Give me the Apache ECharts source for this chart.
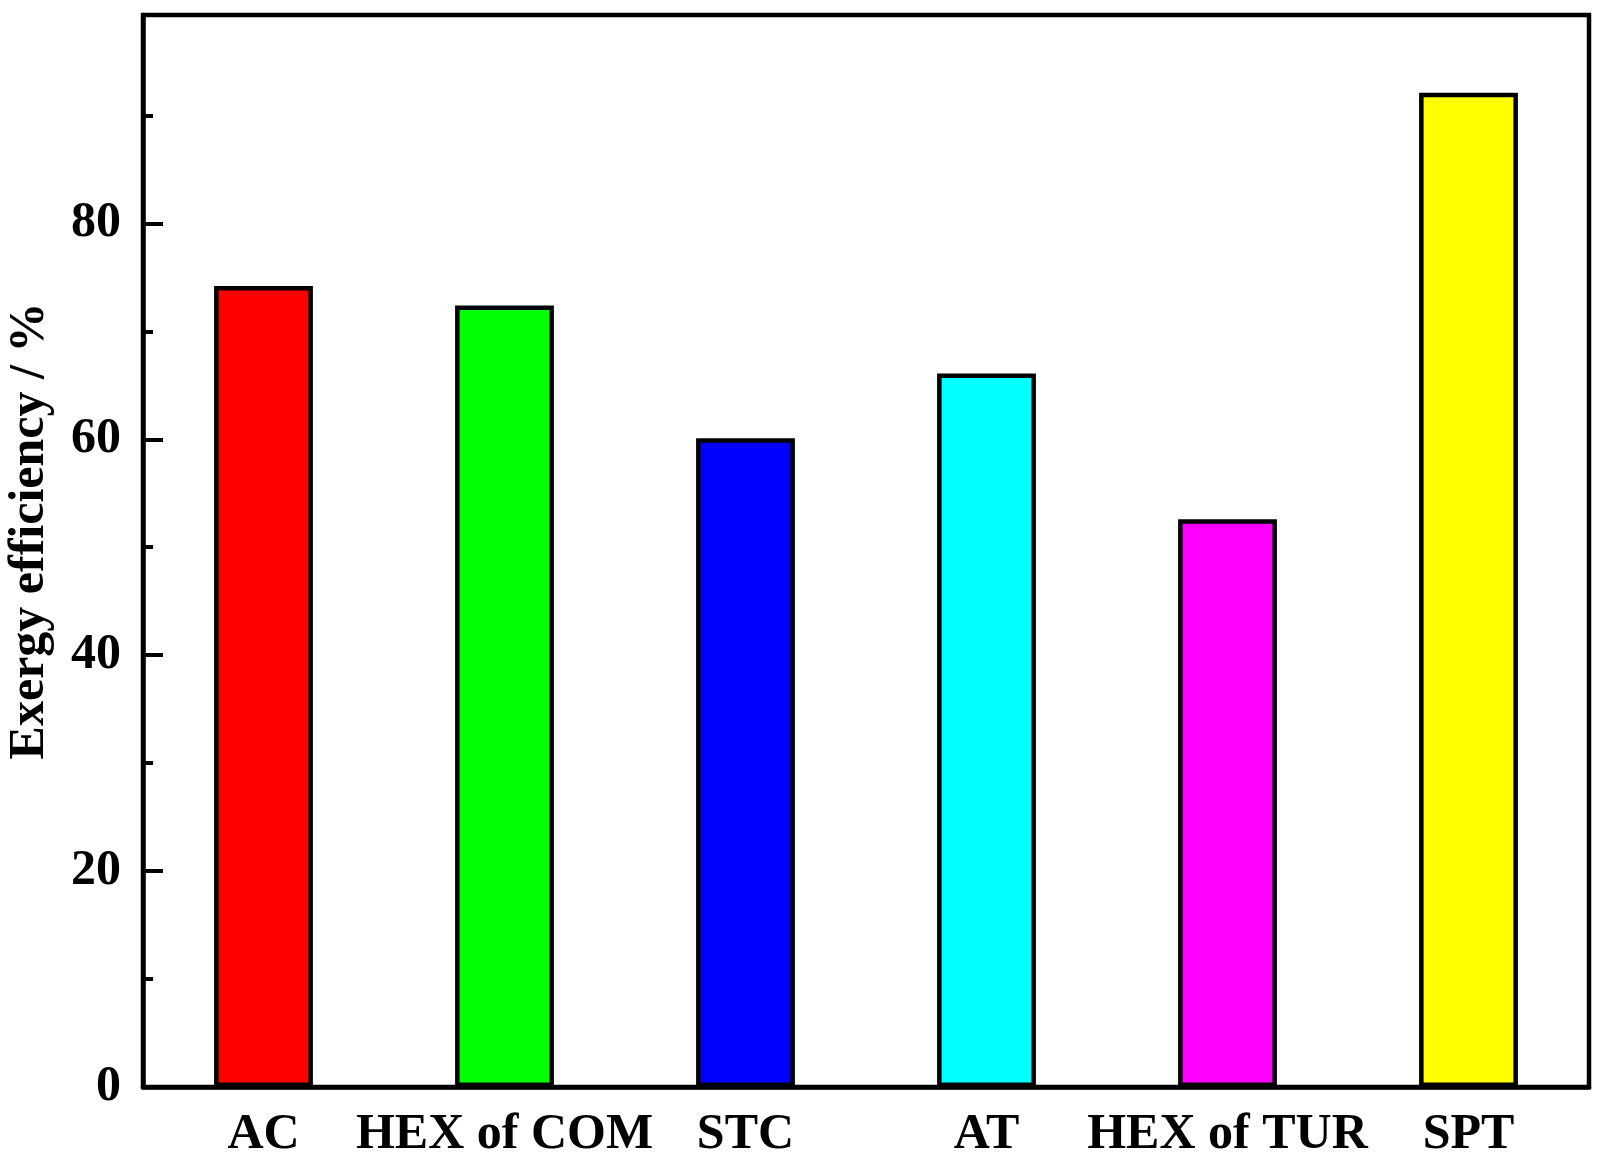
<!DOCTYPE html>
<html>
<head>
<meta charset="utf-8">
<script src="https://cdn.jsdelivr.net/npm/echarts@6/dist/echarts.min.js"></script>
<style>
  html, body { margin: 0; padding: 0; background: #fff; }
  #main { width: 1604px; height: 1168px; }
</style>
</head>
<body>
<div id="main"></div>
<script>
// data
var categories = ['AC', 'HEX of COM', 'STC', 'AT', 'HEX of TUR', 'SPT'];
var efficiency = [74.2, 72.4, 60.1, 66.1, 52.6, 92.1];
var barColors = ['#ff0000', '#00ff00', '#0000ff', '#00ffff', '#ff00ff', '#ffff00'];
var majorTicks = [0, 20, 40, 60, 80];
var minorTicks = [10, 30, 50, 70, 90];

var chart = echarts.init(document.getElementById('main'), null, { renderer: 'canvas' });

var font = '"Liberation Serif", "Times New Roman", serif';
var yMax = 99.3;

var option = {
  backgroundColor: '#fff',
  animation: false,
  grid: {
    left: 143, right: 15, top: 15, bottom: 81,
    outerBoundsMode: 'none',
    containLabel: false,
    show: true,
    borderColor: '#000',
    borderWidth: 4.5,
    backgroundColor: 'transparent'
  },
  xAxis: {
    type: 'category',
    data: categories,
    axisLine: { lineStyle: { color: '#000', width: 4.5 } },
    axisTick: { show: false },
    axisLabel: {
      interval: 0,
      color: '#000', fontFamily: font, fontWeight: 'bold', fontSize: 50, margin: 23
    },
    splitLine: { show: false }
  },
  yAxis: [{
    type: 'value',
    min: 0,
    max: yMax,
    name: 'Exergy efficiency / %',
    nameLocation: 'middle',
    nameGap: 88,
    nameTextStyle: {
      color: '#000', fontFamily: font, fontWeight: 'bold', fontSize: 50,
      padding: [0, 0, 0, 40]
    },
    axisLine: { show: true, lineStyle: { color: '#000', width: 4.5 } },
    axisTick: {
      show: true, inside: true, length: 20, customValues: majorTicks,
      lineStyle: { color: '#000', width: 4 }
    },
    axisLabel: {
      color: '#000', fontFamily: font, fontWeight: 'bold', fontSize: 50, margin: 22,
      customValues: majorTicks
    },
    splitLine: { show: false }
  }, {
    type: 'value',
    min: 0,
    max: yMax,
    position: 'left',
    axisLine: { show: false },
    axisTick: {
      show: true, inside: true, length: 10, customValues: minorTicks,
      lineStyle: { color: '#000', width: 4 }
    },
    axisLabel: { show: false },
    splitLine: { show: false }
  }],
  series: [{
    type: 'bar',
    yAxisIndex: 0,
    barWidth: '41%',
    data: efficiency.map(function (v, i) {
      return { value: v, itemStyle: { color: barColors[i] } };
    }),
    itemStyle: { borderColor: '#000', borderWidth: 4.5 }
  }]
};

chart.setOption(option);
</script>
</body>
</html>
